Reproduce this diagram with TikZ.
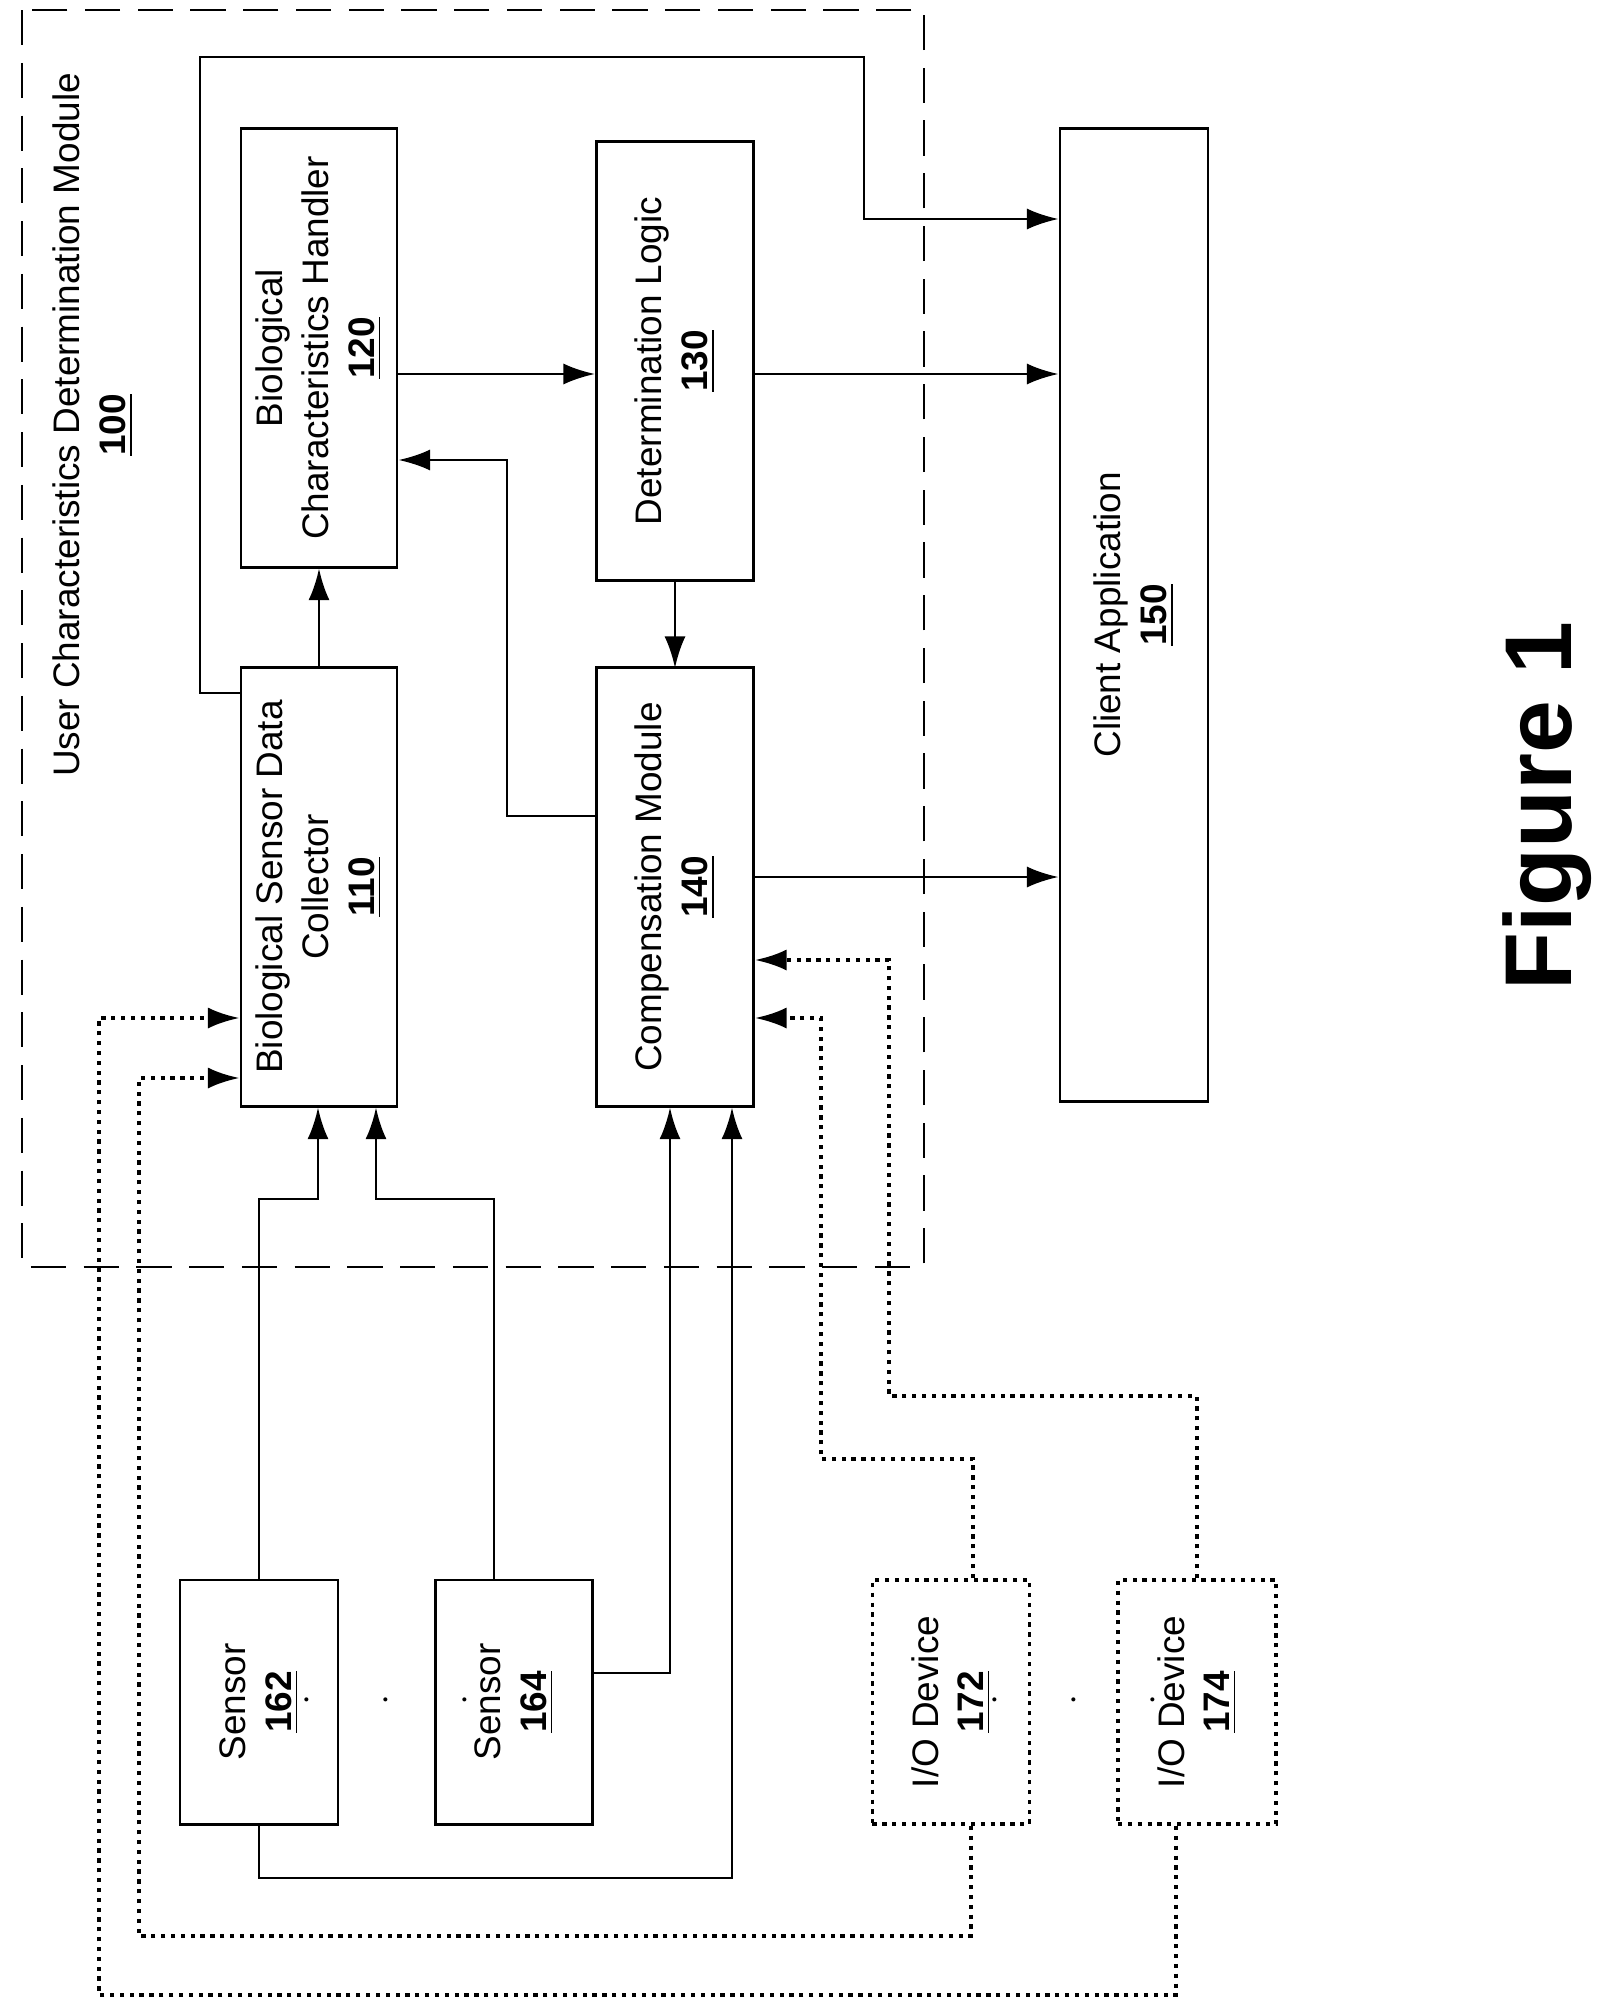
\documentclass[tikz,border=0pt]{standalone}
\usepackage{fontspec}
\setmainfont{Liberation Sans}
\usetikzlibrary{arrows.meta}
\begin{document}
\begin{tikzpicture}[x=0.01cm,y=-0.01cm,
  blk/.style={draw,thick,minimum width=#1},
  lbl/.style={rotate=90,align=center,font=\fontsize{10.5}{13}\selectfont},
  dots/.style={line width=1.1pt,dash pattern=on 1.2pt off 1.6pt},
  >={Latex[length=9pt,width=6pt]}]
\useasboundingbox (0,0) rectangle (1611,2012);

\draw[thick,dash pattern=on 10pt off 5pt] (22,10) rectangle (924,1267);
\node[lbl] at (93,425) {User Characteristics Determination Module\\\underline{\textbf{100}}};

\node[blk=1.56cm,minimum height=4.38cm] (b110) at (319,887) {};
\node[blk=1.56cm,minimum height=4.38cm] (b120) at (319,348) {};
\node[blk=1.57cm,minimum height=4.38cm] (b130) at (675,361) {};
\node[blk=1.57cm,minimum height=4.38cm] (b140) at (675,887) {};
\node[blk=1.48cm,minimum height=9.73cm] (b150) at (1134,615) {};
\node[blk=1.58cm,minimum height=2.44cm] (s162) at (259,1702) {};
\node[blk=1.57cm,minimum height=2.44cm] (s164) at (514,1702) {};
\node[draw,dots,minimum width=1.57cm,minimum height=2.44cm] (d172) at (951,1702) {};
\node[draw,dots,minimum width=1.58cm,minimum height=2.44cm] (d174) at (1197,1702) {};

\node[lbl] at (b110) {Biological Sensor Data\\Collector\\\underline{\textbf{110}}};
\node[lbl] at (b120) {Biological\\Characteristics Handler\\\underline{\textbf{120}}};
\node[lbl] at (b130) {Determination Logic\\\underline{\textbf{130}}};
\node[lbl] at (b140) {Compensation Module\\\underline{\textbf{140}}};
\node[lbl] at (b150) {Client Application\\\underline{\textbf{150}}};
\node[lbl] at (s162) {Sensor\\\underline{\textbf{162}}};
\node[lbl] at (s164) {Sensor\\\underline{\textbf{164}}};
\node[lbl] at (d172) {I/O Device\\\underline{\textbf{172}}};
\node[lbl] at (d174) {I/O Device\\\underline{\textbf{174}}};
\node[font=\fontsize{10.5}{12}\selectfont] (gap1) at (386,1701) {$\cdot\hspace{6mm}\cdot\hspace{6mm}\cdot$};
\node[font=\fontsize{10.5}{12}\selectfont] (gap2) at (1074,1701) {$\cdot\hspace{6mm}\cdot\hspace{6mm}\cdot$};
\node[rotate=90,font=\fontsize{27}{30}\bfseries] (fig) at (1547,806) {Figure 1};

% solid connectors
\draw[thick,->] (b110) -- (b120);
\draw[thick,->] (b110.west |- 0,693) -| (200,57) -| (864,219) -- (b150.west |- 0,219);
\draw[thick,->] (b120.east |- 0,374) -- (b130.west |- 0,374);
\draw[thick,->] (b130.east |- 0,374) -- (b150.west |- 0,374);
\draw[thick,->] (b130.south |- 0,580) -- (b140.north |- 0,668);
\draw[thick,->] (b140.west |- 0,816) -| (507,460) -- (b120.east |- 0,460);
\draw[thick,->] (b140.east |- 0,877) -- (b150.west |- 0,877);
\draw[thick,->] (s162.north) |- (318,1199) -- (b110.south -| 318,0);
\draw[thick,->] (s164.north -| 494,0) |- (376,1199) -- (b110.south -| 376,0);
\draw[thick,->] (s164.east |- 0,1673) -| (b140.south -| 670,0);
\draw[thick,->] (s162.south) |- (732,1878) -- (b140.south -| 732,0);

% dotted connectors
\draw[dots,->] (d172.north -| 973,0) |- (821,1459) |- (b140.east |- 0,1018);
\draw[dots,->] (d174.north) |- (889,1396) |- (b140.east |- 0,960);
\draw[dots,->] (d172.south -| 971,0) |- (139,1936) |- (b110.west |- 0,1078);
\draw[dots,->] (d174.south -| 1176,0) |- (99,1995) |- (b110.west |- 0,1018);
\end{tikzpicture}
\end{document}
